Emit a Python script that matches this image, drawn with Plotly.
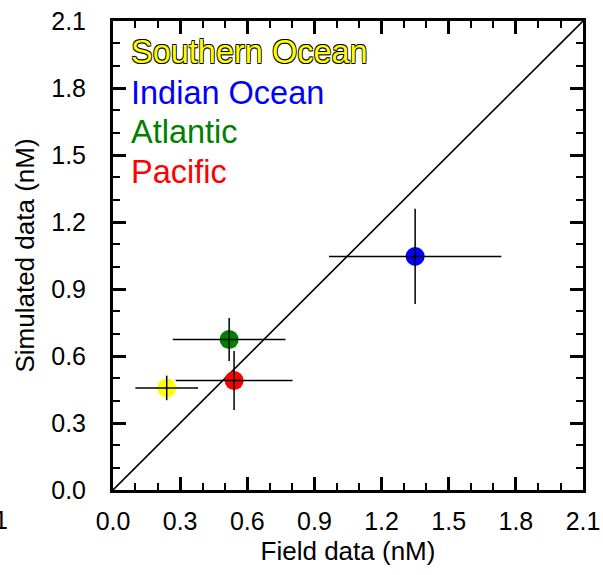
import plotly.graph_objects as go

regions = ["Southern Ocean", "Indian Ocean", "Atlantic", "Pacific"]
colors = ["#ffff00", "#0000ff", "#008000", "#ff0000"]
field = [0.24, 1.35, 0.519, 0.541]
field_err = [0.14, 0.385, 0.252, 0.261]
sim = [0.457, 1.046, 0.674, 0.490]
sim_err = [0.055, 0.213, 0.096, 0.132]
tick_vals = [0.0, 0.3, 0.6, 0.9, 1.2, 1.5, 1.8, 2.1]
tick_text = ["0.0", "0.3", "0.6", "0.9", "1.2", "1.5", "1.8", "2.1"]
axis_range = [0.0, 2.1]

FONT = "Liberation Sans, Arial, Helvetica, sans-serif"

fig = go.Figure()

# 1:1 line
fig.add_trace(go.Scatter(x=axis_range, y=axis_range, mode="lines",
                         line=dict(color="black", width=1.6),
                         showlegend=False, hoverinfo="skip"))

# markers
fig.add_trace(go.Scatter(x=field, y=sim, mode="markers",
                         marker=dict(size=19, color=colors, line=dict(width=0)),
                         showlegend=False, text=regions))

# error bars on top
fig.add_trace(go.Scatter(x=field, y=sim, mode="markers",
                         marker=dict(size=1, opacity=0),
                         error_x=dict(type="data", array=field_err, color="black",
                                      thickness=1.5, width=0),
                         error_y=dict(type="data", array=sim_err, color="black",
                                      thickness=1.5, width=0),
                         showlegend=False, hoverinfo="skip"))

axis_common = dict(
    range=axis_range, tickvals=tick_vals, ticktext=tick_text,
    showline=True, linewidth=3, linecolor="black", mirror="allticks",
    ticks="inside", ticklen=13, tickwidth=2.5, tickcolor="black",
    minor=dict(ticks="inside", ticklen=7, tickwidth=2, tickcolor="black", dtick=0.1),
    showgrid=False, zeroline=False, automargin=False,
    tickfont=dict(family=FONT, size=25, color="black"),
)

fig.update_xaxes(**axis_common, ticklabelstandoff=7,
                 title=dict(text="Field data (nM)", font=dict(family=FONT, size=26, color="black"),
                            standoff=8))
fig.update_yaxes(**axis_common, ticklabelstandoff=19,
                 title=dict(text="Simulated data (nM)", font=dict(family=FONT, size=26, color="black"),
                            standoff=10))

label_y = [0.934, 0.846, 0.763, 0.678]
for name, col, yy in zip(regions, colors, label_y):
    shadow = "none"
    if name == "Southern Ocean":
        shadow = ("-0.7px -0.7px 0 #000, 0.7px -0.7px 0 #000, "
                  "-0.7px 0.7px 0 #000, 0.7px 0.7px 0 #000")
    fig.add_annotation(text=name, xref="paper", yref="paper", x=0.033, y=yy,
                       xanchor="left", yanchor="middle", showarrow=False,
                       font=dict(family=FONT, size=32.5, color=col, shadow=shadow))

# clipped label at the left edge
fig.add_annotation(text="1", xref="paper", yref="paper", x=-0.219, y=-0.063,
                   xanchor="right", yanchor="middle", showarrow=False,
                   font=dict(family=FONT, size=25, color="black"))

fig.update_layout(width=603, height=575,
                  margin=dict(l=113, r=20, t=21, b=85),
                  plot_bgcolor="white", paper_bgcolor="white")

fig.write_html("out.html", config={"displayModeBar": False},
               post_script="document.body.style.margin='0';")
